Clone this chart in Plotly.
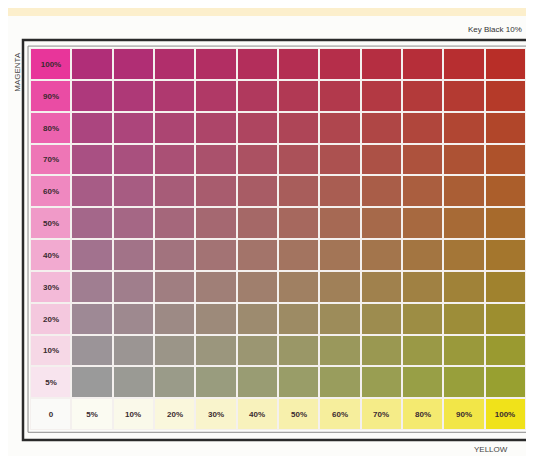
import plotly.graph_objects as go

# Magenta rows (top to bottom) and yellow columns (left to right), in percent
MAGENTA_LEVELS = [100, 90, 80, 70, 60, 50, 40, 30, 20, 10, 5]
YELLOW_LEVELS = [5, 10, 20, 30, 40, 50, 60, 70, 80, 90, 100]

# Colours as they appear in the photographed swatch card
MAGENTA_ONLY = ['#e8359a', '#ea4ca4', '#ec62ae', '#ee76b6', '#ef88c0', '#f09ac8',
                '#f2aad0', '#f3bad8', '#f4c8de', '#f6d8e6', '#f8e4ee']
YELLOW_ONLY = ['#fafaf8', '#fbfbf2', '#faf9ea', '#faf7dc', '#f9f4cc', '#f8f2bc',
               '#f7f0ac', '#f6ee9c', '#f5ec88', '#f4ea70', '#f2e648', '#f0e21a']
MIX_COLORS = [
    ['#b02e78', '#b02e74', '#b12e6b', '#b22e63', '#b32e5b', '#b42e52', '#b52e4a', '#b52e41', '#b62e39', '#b72e30', '#b82e28'],
    ['#ae397c', '#ae3977', '#af396f', '#b03966', '#b0395d', '#b13954', '#b2394c', '#b33943', '#b33a3a', '#b43a32', '#b53a29'],
    ['#ab457f', '#ac457b', '#ac4572', '#ad4569', '#ae4560', '#ae4557', '#af464e', '#af4645', '#b0463c', '#b14633', '#b1462a'],
    ['#a95083', '#a9507e', '#aa5075', '#aa516c', '#ab5162', '#ab5159', '#ac5150', '#ac5146', '#ad523d', '#ad5234', '#ae522b'],
    ['#a75c86', '#a75c82', '#a75c78', '#a85c6e', '#a85c65', '#a85d5b', '#a95d52', '#a95d48', '#aa5e3f', '#aa5e35', '#ab5e2b'],
    ['#a4678a', '#a56785', '#a5677b', '#a56871', '#a56867', '#a6685e', '#a66954', '#a6694a', '#a76940', '#a76a36', '#a76a2c'],
    ['#a2728e', '#a27388', '#a2737e', '#a37374', '#a3746a', '#a37460', '#a37556', '#a3754c', '#a37541', '#a47637', '#a4762d'],
    ['#a07e91', '#a07e8c', '#a07e81', '#a07f77', '#a07f6d', '#a08062', '#a08058', '#a0814d', '#a08143', '#a08238', '#a0822e'],
    ['#9e8995', '#9e898f', '#9d8a85', '#9d8a7a', '#9d8b6f', '#9d8b64', '#9d8c5a', '#9d8c4f', '#9d8d44', '#9d8d39', '#9d8e2f'],
    ['#9b9498', '#9b9593', '#9b9588', '#9b967d', '#9b9672', '#9a9767', '#9a985c', '#9a9851', '#9a9946', '#9a993b', '#9a9a30'],
    ['#9a9a9a', '#9a9a94', '#9a9b89', '#999c7e', '#999c73', '#999d68', '#999d5d', '#999e52', '#989f46', '#989f3b', '#98a030'],
]

# grid: first column = magenta-only labels, last row = yellow-only labels
colors, z, text = [], [], []
for i, m in enumerate(MAGENTA_LEVELS):
    row_cols = [MAGENTA_ONLY[i]] + MIX_COLORS[i]
    z_row = []
    for c in row_cols:
        z_row.append(len(colors) + 0.5)
        colors.append(c)
    z.append(z_row)
    text.append([f'{m}%'] + [''] * len(YELLOW_LEVELS))
z_row = []
for c in YELLOW_ONLY:
    z_row.append(len(colors) + 0.5)
    colors.append(c)
z.append(z_row)
text.append(['0'] + [f'{y}%' for y in YELLOW_LEVELS])

n = len(colors)
colorscale = []
for k, c in enumerate(colors):
    colorscale.append([k / n, c])
    colorscale.append([(k + 1) / n, c])

fig = go.Figure(go.Heatmap(
    z=z,
    x=list(range(len(z[0]))),
    y=list(range(len(z))),
    text=text,
    texttemplate='<b>%{text}</b>',
    textfont=dict(family='Liberation Sans', size=8, color='#3a2a30'),
    colorscale=colorscale,
    zmin=0, zmax=n,
    showscale=False,
    xgap=2, ygap=2,
    hoverinfo='skip',
))

fig.update_xaxes(visible=False, range=[-0.5, 11.5])
fig.update_yaxes(visible=False, range=[11.5, -0.5])

# card frame
fig.add_shape(type='rect', xref='paper', yref='paper',
              x0=-0.0141, x1=1.06, y0=-0.026, y1=1.021,
              line=dict(color='#2a2a2a', width=2.5))
fig.add_shape(type='rect', xref='paper', yref='paper',
              x0=-0.004, x1=1.06, y0=-0.006, y1=1.005,
              line=dict(color='#8a8a8a', width=1))
fig.add_shape(type='rect', xref='paper', yref='paper', layer='below',
              x0=-0.07, x1=1.05, y0=1.084, y1=1.13,
              fillcolor='#fcefcc', line=dict(width=0))

fig.add_annotation(text='Key Black 10%', xref='paper', yref='paper',
                   x=0.995, y=1.049, xanchor='right', yanchor='middle',
                   showarrow=False,
                   font=dict(family='Liberation Sans', size=8, color='#333'))
fig.add_annotation(text='MAGENTA', xref='paper', yref='paper',
                   x=-0.04, y=0.937, yanchor='middle', textangle=-90,
                   showarrow=False,
                   font=dict(family='Liberation Sans', size=8, color='#444'))
fig.add_annotation(text='YELLOW', xref='paper', yref='paper',
                   x=0.968, y=-0.052, yanchor='middle', showarrow=False,
                   font=dict(family='Liberation Sans', size=8, color='#444'))

fig.update_layout(
    width=518, height=448,
    margin=dict(l=22, r=0, t=40, b=26),
    paper_bgcolor='#fcfcfa',
    plot_bgcolor='#f4f0ee',
    showlegend=False,
)

fig.write_html('out.html')
